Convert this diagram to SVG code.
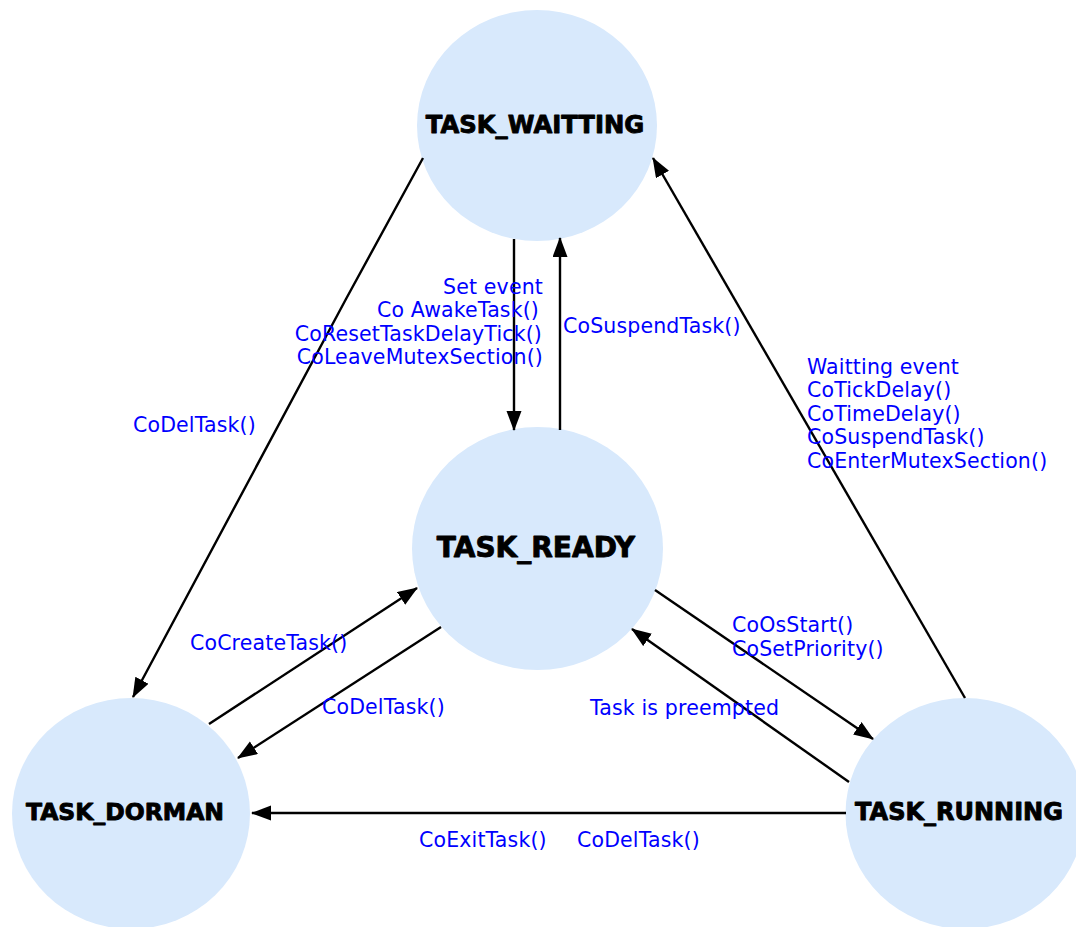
<svg xmlns="http://www.w3.org/2000/svg" width="1076" height="927" viewBox="0 0 1076 927">
  <style>
    .node { fill: #d8e9fc; }
    .title { font-family: "DejaVu Sans", "Liberation Sans", sans-serif; font-weight: bold; fill: #000; stroke: #000; stroke-width: 0.9px; stroke-linejoin: round; text-anchor: middle; }
    .lbl { font-family: "DejaVu Sans", "Verdana", sans-serif; font-size: 20.5px; letter-spacing: 0.15px; fill: #0000ff; }
    .end { text-anchor: end; }
    .edge { stroke: #000; stroke-width: 2.4; fill: none; marker-end: url(#arrow); }
  </style>
  <defs>
    <marker id="arrow" markerUnits="userSpaceOnUse" markerWidth="22" markerHeight="16" refX="19" refY="7.5" orient="auto">
      <path d="M0,0 L20,7.5 L0,15 Z" fill="#000"/>
    </marker>
  </defs>
  <rect width="1076" height="927" fill="#fff"/>

  <g id="node-waitting">
    <ellipse class="node" cx="537" cy="125.5" rx="120" ry="115.5"/>
    <text class="title" x="535" y="133" font-size="24.3">TASK_WAITTING</text>
  </g>
  <g id="node-ready">
    <ellipse class="node" cx="537.5" cy="548.5" rx="125.5" ry="121.5"/>
    <text class="title" x="536" y="557" font-size="28">TASK_READY</text>
  </g>
  <g id="node-dorman">
    <ellipse class="node" cx="131" cy="813.5" rx="119" ry="115.5"/>
    <text class="title" x="125" y="820" font-size="23.5">TASK_DORMAN</text>
  </g>
  <g id="node-running">
    <ellipse class="node" cx="965" cy="813.5" rx="119.5" ry="115.5"/>
    <text class="title" x="959" y="820" font-size="24">TASK_RUNNING</text>
  </g>

  <g id="connectors">
    <polyline class="edge" points="423,158 346,299 133,697"/>
    <line class="edge" x1="514" y1="239" x2="514" y2="430"/>
    <line class="edge" x1="560" y1="430" x2="560" y2="238"/>
    <line class="edge" x1="965" y1="698" x2="653" y2="158"/>
    <line class="edge" x1="655" y1="590" x2="873" y2="739"/>
    <line class="edge" x1="849" y1="782" x2="632" y2="629"/>
    <line class="edge" x1="209" y1="724" x2="417" y2="588"/>
    <line class="edge" x1="441" y1="627" x2="238" y2="758"/>
    <line class="edge" x1="846" y1="813" x2="252" y2="813"/>
  </g>

  <g id="labels">
    <text class="lbl end" x="543" y="294">Set event</text>
    <text class="lbl end" x="539" y="317">Co AwakeTask()</text>
    <text class="lbl end" x="542" y="340.5">CoResetTaskDelayTick()</text>
    <text class="lbl end" x="543" y="364">CoLeaveMutexSection()</text>
    <text class="lbl" x="563" y="333">CoSuspendTask()</text>
    <text class="lbl" x="133" y="432">CoDelTask()</text>
    <text class="lbl" x="807" y="374">Waitting event</text>
    <text class="lbl" x="807" y="397">CoTickDelay()</text>
    <text class="lbl" x="807" y="420.5">CoTimeDelay()</text>
    <text class="lbl" x="807" y="444">CoSuspendTask()</text>
    <text class="lbl" x="807" y="468">CoEnterMutexSection()</text>
    <text class="lbl" x="190" y="650">CoCreateTask()</text>
    <text class="lbl" x="322" y="714">CoDelTask()</text>
    <text class="lbl" x="732" y="632">CoOsStart()</text>
    <text class="lbl" x="732" y="656">CoSetPriority()</text>
    <text class="lbl" x="590" y="715">Task is preempted</text>
    <text class="lbl" x="419" y="847">CoExitTask()</text>
    <text class="lbl" x="577" y="847">CoDelTask()</text>
  </g>
</svg>
